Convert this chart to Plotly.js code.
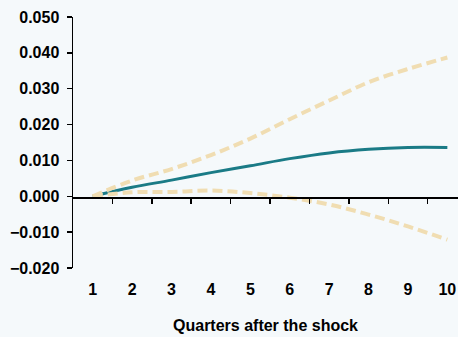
<!DOCTYPE html>
<html>
<head>
<meta charset="utf-8">
<script src="https://cdn.plot.ly/plotly-3.0.1.min.js"></script>
<style>
  html, body { margin: 0; padding: 0; background: #f5f9fb; }
  #chart { width: 458px; height: 337px; }
</style>
</head>
<body>
<div id="chart"></div>
<script>
// Impulse response over ten quarters, with upper and lower bands
const quarters = [1, 2, 3, 4, 5, 6, 7, 8, 9, 10];
const response = [0, 0.0025, 0.0045, 0.0066, 0.0085, 0.0105, 0.0121, 0.0131, 0.0136, 0.0136];
const upperBand = [0, 0.0044, 0.0076, 0.0115, 0.0161, 0.0215, 0.0267, 0.0318, 0.0355, 0.0387];
const lowerBand = [0, 0.0011, 0.0012, 0.0016, 0.0009, -0.0004, -0.0023, -0.0051, -0.0084, -0.0121];
const quarterLabels = ['1', '2', '3', '4', '5', '6', '7', '8', '9', '10'];
const quarterBoundaries = [1.5, 2.5, 3.5, 4.5, 5.5, 6.5, 7.5, 8.5, 9.5];

const font = { family: 'Liberation Sans, Arial, sans-serif', size: 16, color: '#000000' };
const xRange = [0.5, 10.27];

const bandStyle = { color: '#f0ddb2', width: 4, dash: '10px,5px', shape: 'spline' };

const traces = [
  {
    x: quarters, y: response, type: 'scatter', mode: 'lines',
    line: { color: '#1a7b86', width: 3, shape: 'spline' },
    hoverinfo: 'skip', showlegend: false
  },
  {
    x: quarters, y: upperBand, type: 'scatter', mode: 'lines',
    line: bandStyle, hoverinfo: 'skip', showlegend: false
  },
  {
    x: quarters, y: lowerBand, type: 'scatter', mode: 'lines',
    line: bandStyle, hoverinfo: 'skip', showlegend: false
  },
  {
    // carrier for the zero-level axis with quarter boundary ticks
    x: quarters, y: response, xaxis: 'x2', type: 'scatter', mode: 'none',
    hoverinfo: 'skip', showlegend: false
  }
];

const layout = {
  width: 458, height: 337,
  paper_bgcolor: '#f5f9fb', plot_bgcolor: '#f5f9fb',
  margin: { l: 73, r: 0, t: 17, b: 69 },
  font: font,
  showlegend: false,
  xaxis: {
    range: xRange, tickmode: 'array', tickvals: quarters, ticktext: quarterLabels,
    ticks: '', showline: false, showgrid: false, zeroline: false,
    tickfont: { family: font.family, size: 16, color: '#000', weight: 'bold' },
    ticklabelstandoff: 10,
    title: { text: '<b>Quarters after the shock</b>', standoff: 22,
             font: { family: font.family, size: 16, color: '#000' } }
  },
  xaxis2: {
    overlaying: 'x', anchor: 'free', position: 0.2817,
    range: xRange, tickmode: 'array', tickvals: quarterBoundaries,
    ticks: 'outside', ticklen: 5, tickwidth: 1.5, tickcolor: '#000',
    showticklabels: false, showline: true, linecolor: '#000', linewidth: 1.5,
    showgrid: false, zeroline: false
  },
  yaxis: {
    range: [-0.02, 0.05], dtick: 0.01, tick0: 0, tickformat: '.3f',
    ticks: 'outside', ticklen: 5, tickwidth: 1.5, tickcolor: '#000',
    showline: true, linecolor: '#000', linewidth: 1.5,
    showgrid: false, zeroline: false,
    tickfont: { family: font.family, size: 16, color: '#000', weight: 'bold' },
    ticklabelstandoff: 4
  }
};

Plotly.newPlot('chart', traces, layout, { staticPlot: true, displayModeBar: false });
</script>
</body>
</html>
